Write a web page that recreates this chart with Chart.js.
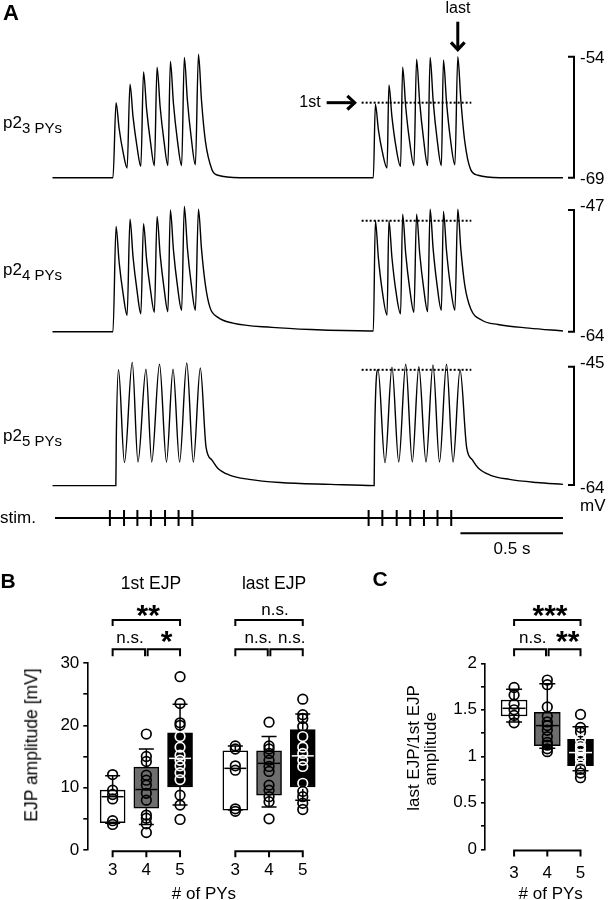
<!DOCTYPE html>
<html><head><meta charset="utf-8"><title>EJP figure</title>
<script src="https://cdn.jsdelivr.net/npm/chart.js@4.4.1/dist/chart.umd.min.js"></script>
<style>
html,body{margin:0;padding:0;background:#fff;}
#fig{position:relative;width:609px;height:900px;overflow:hidden;background:#fff;font-family:'Liberation Sans',Arial,Helvetica,sans-serif;color:#000;}
#fig canvas{position:absolute;}
.t{position:absolute;white-space:nowrap;line-height:1;}
.sub{font-size:15px;position:relative;top:5px;}
</style></head>
<body><div id="fig">
<canvas id="tr1" width="609" height="195" style="left:0;top:0"></canvas>
<canvas id="tr2" width="609" height="155" style="left:0;top:190px"></canvas>
<canvas id="tr3" width="609" height="150" style="left:0;top:345px"></canvas>
<canvas id="stim" width="609" height="65" style="left:0;top:495px"></canvas>
<canvas id="pB" width="340" height="340" style="left:0;top:560px"></canvas>
<canvas id="pC" width="279" height="340" style="left:330px;top:560px"></canvas>
</div>
<script>
// ================= DATA =================
// Panel A: membrane potential traces, [time (s), mV]
const trace3PYs = [[0.000,-69.0],
 [0.295,-69.0],[0.310,-59.7],[0.325,-62.9],[0.344,-65.8],[0.364,-67.8],
 [0.378,-57.4],[0.393,-61.5],[0.412,-65.1],[0.431,-67.6],
 [0.444,-55.9],[0.459,-60.5],[0.478,-64.6],[0.497,-67.5],
 [0.510,-55.3],[0.525,-60.2],[0.544,-64.5],[0.563,-67.5],
 [0.575,-54.6],[0.590,-59.8],[0.609,-64.3],[0.630,-67.5],
 [0.643,-54.1],[0.658,-59.4],[0.677,-64.1],[0.697,-67.4],
 [0.712,-53.7],[0.727,-59.5],[0.746,-64.5],[0.778,-68.0],[0.807,-68.7],[0.915,-69.0],
 [1.565,-69.0],[1.575,-59.9],[1.590,-63.1],[1.609,-65.8],[1.632,-67.8],
 [1.641,-57.5],[1.656,-61.5],[1.675,-65.1],[1.698,-67.6],
 [1.708,-55.3],[1.723,-60.2],[1.742,-64.5],[1.763,-67.5],
 [1.776,-54.3],[1.791,-59.6],[1.810,-64.2],[1.830,-67.5],
 [1.842,-54.1],[1.857,-59.5],[1.876,-64.2],[1.897,-67.5],
 [1.907,-54.4],[1.922,-59.6],[1.941,-64.2],[1.963,-67.4],
 [1.977,-54.0],[1.992,-59.4],[2.011,-64.5],[2.040,-68.0],[2.076,-68.7],[2.183,-69.0],
 [2.490,-69.0]];
const trace4PYs = [[0.000,-64.0],
 [0.295,-64.0],[0.310,-49.3],[0.325,-54.3],[0.344,-58.6],[0.364,-61.7],
 [0.378,-48.3],[0.393,-53.6],[0.412,-58.2],[0.431,-61.5],
 [0.444,-48.9],[0.459,-53.9],[0.478,-58.2],[0.497,-61.3],
 [0.510,-47.9],[0.525,-53.2],[0.544,-57.9],[0.563,-61.2],
 [0.575,-47.0],[0.590,-52.6],[0.609,-57.5],[0.630,-61.0],
 [0.643,-46.5],[0.658,-52.3],[0.677,-57.4],[0.697,-61.0],
 [0.712,-46.9],[0.727,-52.5],[0.746,-57.5],[0.768,-60.6],[0.807,-62.0],[0.880,-62.8],[1.071,-63.4],[1.261,-63.7],[1.549,-63.9],
 [1.565,-63.9],[1.575,-48.5],[1.590,-53.8],[1.609,-58.4],[1.632,-61.7],
 [1.641,-48.5],[1.656,-53.7],[1.675,-58.3],[1.698,-61.5],
 [1.708,-47.6],[1.723,-53.1],[1.742,-57.9],[1.763,-61.3],
 [1.776,-47.6],[1.791,-53.0],[1.810,-57.8],[1.830,-61.2],
 [1.842,-46.9],[1.857,-52.5],[1.876,-57.5],[1.897,-61.0],
 [1.907,-47.2],[1.922,-52.7],[1.941,-57.6],[1.963,-61.0],
 [1.977,-46.9],[1.992,-52.5],[2.011,-57.5],[2.040,-60.8],[2.095,-62.4],[2.173,-63.0],[2.324,-63.5],[2.490,-63.9]];
const trace5PYs = [[0.000,-64.1],
 [0.309,-64.1],[0.311,-57.0],[0.322,-45.5],[0.351,-60.4],
 [0.389,-44.3],[0.417,-60.3],
 [0.456,-45.4],[0.484,-60.3],
 [0.522,-44.6],[0.556,-60.3],
 [0.588,-45.4],[0.620,-60.3],
 [0.655,-44.4],[0.687,-60.3],
 [0.721,-45.2],[0.749,-57.9],[0.778,-60.0],[0.806,-61.3],[0.863,-62.4],[0.959,-63.1],[1.110,-63.6],[1.357,-63.9],
 [1.569,-64.1],[1.571,-57.0],[1.588,-45.5],[1.622,-60.4],
 [1.656,-45.1],[1.689,-60.3],
 [1.723,-44.6],[1.755,-60.3],
 [1.787,-45.0],[1.822,-60.3],
 [1.856,-44.7],[1.888,-60.3],
 [1.922,-44.6],[1.954,-60.3],
 [1.988,-45.5],[2.020,-57.9],[2.049,-60.0],[2.078,-61.3],[2.134,-62.4],[2.229,-63.1],[2.362,-63.6],[2.490,-63.9]];
// scale-bar ranges (mV) of the three traces
const mvRange3PYs = [-69, -54];
const mvRange4PYs = [-64, -47];
const mvRange5PYs = [-64, -45];
// first EJP of the second train (dotted reference level)
const firstEJP3PYs = -59.7, firstEJP4PYs = -48.5, firstEJP5PYs = -45.5;
// stimulus times (s)
const stimTrain1 = [0.280, 0.349, 0.414, 0.480, 0.549, 0.615, 0.682];
const stimTrain2 = [1.542, 1.609, 1.679, 1.745, 1.812, 1.878, 1.945];
const stimSpan = [0.012, 2.490];
const timeBar = 0.5; // s

// Panel B / C : box stats [whiskerLow, q1, median, q3, whiskerHigh]
const pyCategories = ['3', '4', '5'];
const firstEJPStats = [[4.3,4.4,8.55,9.6,11.9],[4.1,6.7,9.7,13.3,16.2],[7.2,10.1,14.7,18.8,23.4]];
const lastEJPStats  = [[6.4,6.4,13.1,15.9,16.7],[6.9,8.8,13.9,15.9,18.2],[8.0,10.1,15.1,19.3,21.8]];
const firstEJPPoints = [
  [12.1, 9.6, 8.9, 8.2, 4.7, 4.1],
  [18.6, 15.0, 14.2, 12.0, 11.2, 10.4, 9.1, 8.0, 5.6, 5.1, 4.2, 2.8],
  [27.8, 23.5, 20.4, 20.0, 18.2, 16.5, 15.2, 14.4, 13.5, 12.4, 11.3, 8.8, 7.2, 4.9]];
const lastEJPPoints = [
  [16.7, 16.2, 13.5, 12.8, 6.6, 6.2],
  [20.5, 16.7, 16.2, 15.5, 14.4, 13.4, 12.6, 10.4, 9.6, 8.55, 7.75, 5.0],
  [24.2, 21.7, 21.1, 19.8, 18.2, 16.5, 15.5, 14.4, 13.4, 10.7, 9.4, 8.55, 7.5, 6.5]];
const ratioStats = [[1.37,1.433,1.516,1.605,1.72],[1.086,1.114,1.33,1.473,1.78],[0.845,0.90,1.04,1.183,1.318]];
const ratioPoints = [
  [1.74, 1.66, 1.56, 1.50, 1.44, 1.36],
  [1.82, 1.77, 1.53, 1.43, 1.37, 1.33, 1.28, 1.21, 1.15, 1.12, 1.08, 1.05],
  [1.45, 1.31, 1.26, 1.18, 1.12, 1.09, 1.07, 1.02, 0.98, 0.96, 0.91, 0.86, 0.82, 0.77]];

// ================= STYLE / LAYOUT =================
const FONT = "'Liberation Sans', Arial, Helvetica, sans-serif";
Chart.defaults.font.family = FONT;
Chart.defaults.color = '#000';
const BOX_FILLS = ['#ffffff', '#6e6e6e', '#000000'];
const PX_PER_S = 205, TRACE_LEFT = 52.5, BAR_X = 574, FIG_W = 609;
const T_MAX = (BAR_X - TRACE_LEFT) / PX_PER_S;
const REF_T0 = 1.508, REF_T1 = 2.043;
const fig = document.getElementById('fig');

const toXY = a => a.map(p => ({x: p[0], y: p[1]}));
const baseOpts = (pad) => ({
  responsive: false, animation: false, events: [], devicePixelRatio: 1,
  layout: {padding: pad},
  plugins: {legend: {display: false}, tooltip: {enabled: false}, title: {display: false}}
});

// mV scale bar drawn at the right edge of the chart area from the y scale
const mvBar = {
  id: 'mvBar',
  afterDatasetsDraw(chart) {
    const {ctx, chartArea: a, scales: {y}} = chart;
    const y0 = y.getPixelForValue(y.max), y1 = y.getPixelForValue(y.min);
    ctx.save(); ctx.strokeStyle = '#000'; ctx.lineWidth = 2;
    ctx.beginPath();
    ctx.moveTo(a.right - 6, y0); ctx.lineTo(a.right, y0); ctx.lineTo(a.right, y1); ctx.lineTo(a.right - 6, y1);
    ctx.stroke(); ctx.restore();
  }
};

function arrow(ctx, x0, y0, x1, y1) {
  const ang = Math.atan2(y1 - y0, x1 - x0), h = 10, w = 0.75;
  ctx.beginPath(); ctx.lineWidth = 3; ctx.moveTo(x0, y0); ctx.lineTo(x1 - 2 * Math.cos(ang), y1 - 2 * Math.sin(ang)); ctx.stroke();
  ctx.beginPath(); ctx.lineWidth = 3.2; ctx.lineJoin = 'miter';
  ctx.moveTo(x1 - h * Math.cos(ang - w), y1 - h * Math.sin(ang - w));
  ctx.lineTo(x1, y1);
  ctx.lineTo(x1 - h * Math.cos(ang + w), y1 - h * Math.sin(ang + w));
  ctx.stroke();
}
const arrows = {
  id: 'arrows',
  afterDatasetsDraw(chart) {
    const {ctx, scales: {x, y}} = chart;
    ctx.save(); ctx.strokeStyle = '#000';
    const ya = y.getPixelForValue(firstEJP3PYs), xa = x.getPixelForValue(REF_T0) - 7;
    arrow(ctx, xa - 28, ya, xa, ya);
    let last = trace3PYs.filter(p => p[0] > 1.95 && p[0] < 2.0).reduce((m, p) => p[1] > m[1] ? p : m);
    const xl = x.getPixelForValue(last[0]), yl = y.getPixelForValue(last[1]) - 7;
    arrow(ctx, xl, yl - 28, xl, yl);
    ctx.restore();
  }
};

function traceChart(id, trace, range, ref, pad, extra) {
  return new Chart(document.getElementById(id), {
    type: 'line',
    data: {datasets: [
      {data: toXY(trace), borderColor: '#000', borderWidth: 1.4, pointRadius: 0, cubicInterpolationMode: 'monotone', clip: false},
      {data: [{x: REF_T0, y: ref}, {x: REF_T1, y: ref}], borderColor: '#000', borderWidth: 2, borderDash: [2, 2], pointRadius: 0, clip: false}
    ]},
    options: Object.assign(baseOpts({left: TRACE_LEFT, right: FIG_W - BAR_X, top: pad[0], bottom: pad[1]}), {
      scales: {
        x: {type: 'linear', display: false, min: 0, max: T_MAX},
        y: {type: 'linear', display: false, min: range[0], max: range[1]}
      }
    }),
    plugins: [mvBar].concat(extra || [])
  });
}
traceChart('tr1', trace3PYs, mvRange3PYs, firstEJP3PYs, [56.7, 17.3], [arrows]);
traceChart('tr2', trace4PYs, mvRange4PYs, firstEJP4PYs, [20, 13.3]);
traceChart('tr3', trace5PYs, mvRange5PYs, firstEJP5PYs, [21.7, 10]);

// stimulus row
const timeBarPlugin = {
  id: 'timeBar',
  afterDatasetsDraw(chart) {
    const {ctx, scales: {x, y}} = chart;
    const yy = y.getPixelForValue(-1.9);
    ctx.save(); ctx.strokeStyle = '#000'; ctx.lineWidth = 2;
    ctx.beginPath(); ctx.moveTo(x.getPixelForValue(stimSpan[1] - timeBar), yy); ctx.lineTo(x.getPixelForValue(stimSpan[1]), yy); ctx.stroke();
    ctx.restore();
  }
};
new Chart(document.getElementById('stim'), {
  type: 'line',
  data: {datasets: [
    {data: stimSpan.map(t => ({x: t, y: 0})), borderColor: '#000', borderWidth: 2, pointRadius: 0, clip: false},
    {type: 'scatter', data: stimTrain1.concat(stimTrain2).map(t => ({x: t, y: 0})), pointStyle: 'line', pointRotation: 90,
     pointRadius: 8, pointBorderWidth: 2, pointBorderColor: '#000', showLine: false, clip: false}
  ]},
  options: Object.assign(baseOpts({left: TRACE_LEFT, right: FIG_W - BAR_X, top: 15, bottom: 34}), {
    scales: {x: {type: 'linear', display: false, min: 0, max: T_MAX}, y: {type: 'linear', display: false, min: -1, max: 1}}
  }),
  plugins: [timeBarPlugin]
});

// ================= box plot panels =================
function boxPanel(id, groups, conf) {
  const boxes = [], fills = [], points = [], pColors = [], meta = [];
  groups.forEach(g => g.stats.forEach((s, i) => {
    const pos = g.pos0 + i;
    boxes.push({x: pos, y: [s[1], s[3]]});
    fills.push(BOX_FILLS[i]);
    meta.push({pos, s, fill: BOX_FILLS[i]});
    g.points[i].forEach(v => {
      points.push({x: pos, y: v});
      pColors.push(BOX_FILLS[i] === '#000000' && v >= s[1] && v <= s[3] ? '#ffffff' : '#000000');
    });
  }));
  const extras = {
    id: 'boxExtras',
    beforeDatasetsDraw(chart) {
      const {ctx, scales: {x, y}} = chart;
      ctx.save(); ctx.strokeStyle = '#000'; ctx.lineWidth = 1.5;
      meta.forEach(m => {
        const px = x.getPixelForValue(m.pos);
        ctx.beginPath();
        ctx.moveTo(px, y.getPixelForValue(m.s[4])); ctx.lineTo(px, y.getPixelForValue(m.s[3]));
        ctx.moveTo(px, y.getPixelForValue(m.s[1])); ctx.lineTo(px, y.getPixelForValue(m.s[0]));
        ctx.stroke();
      });
      ctx.restore();
    },
    afterDatasetsDraw(chart) {
      const {ctx, chartArea: a, scales: {x, y}} = chart;
      ctx.save();
      meta.forEach(m => {
        const px = x.getPixelForValue(m.pos);
        ctx.strokeStyle = '#000'; ctx.lineWidth = 1.5;
        ctx.beginPath();
        [m.s[0], m.s[4]].forEach(v => { const py = y.getPixelForValue(v); ctx.moveTo(px - conf.capW / 2, py); ctx.lineTo(px + conf.capW / 2, py); });
        ctx.stroke();
        ctx.strokeStyle = m.fill === '#000000' ? '#ffffff' : '#000000';
        ctx.beginPath();
        const pm = y.getPixelForValue(m.s[2]);
        ctx.moveTo(px - conf.barW / 2 + 1.5, pm); ctx.lineTo(px + conf.barW / 2 - 1.5, pm); ctx.stroke();
      });
      // bracket-shaped category axis
      ctx.strokeStyle = '#000'; ctx.lineWidth = 2; ctx.lineJoin = 'miter';
      ctx.fillStyle = '#000'; ctx.font = '17px ' + FONT; ctx.textAlign = 'center'; ctx.textBaseline = 'middle';
      const yb = a.bottom + 1.2;
      groups.forEach(g => {
        const xs = pyCategories.map((c, i) => x.getPixelForValue(g.pos0 + i));
        ctx.beginPath();
        ctx.moveTo(xs[0], yb + 6); ctx.lineTo(xs[0], yb); ctx.lineTo(xs[2], yb); ctx.lineTo(xs[2], yb + 6);
        ctx.moveTo(xs[1], yb); ctx.lineTo(xs[1], yb + 6);
        ctx.stroke();
        pyCategories.forEach((c, i) => ctx.fillText(c, xs[i], conf.catLabelY));
      });
      // significance brackets
      conf.sig.forEach(b => {
        const xa = x.getPixelForValue(b.a) + (b.ia || 0), xb2 = x.getPixelForValue(b.b) - (b.ib || 0);
        ctx.beginPath();
        ctx.moveTo(xa, b.y + b.leg); ctx.lineTo(xa, b.y); ctx.lineTo(xb2, b.y); ctx.lineTo(xb2, b.y + b.leg);
        ctx.stroke();
      });
      ctx.restore();
    }
  };
  return new Chart(document.getElementById(id), {
    type: 'bar',
    data: {datasets: [
      {type: 'scatter', data: points, pointRadius: 4.8, pointBorderWidth: 1.7, pointBorderColor: pColors,
       pointBackgroundColor: 'rgba(0,0,0,0)', showLine: false, clip: false, order: 1},
      {type: 'bar', data: boxes, backgroundColor: fills, borderColor: '#000', borderWidth: 1.5, borderSkipped: false,
       barThickness: conf.barW, grouped: false, clip: false, order: 2}
    ]},
    options: Object.assign(baseOpts({left: 0, right: 0, top: conf.padTop, bottom: conf.padBottom}), {
      scales: {
        x: {type: 'linear', display: false, offset: false, min: conf.xMin, max: conf.xMax},
        y: {type: 'linear', position: 'left', min: conf.yMin, max: conf.yMax,
            afterFit: s => { s.width = conf.axisW; },
            border: {display: true, color: '#000', width: 1.6},
            grid: {drawOnChartArea: false, drawTicks: true, tickLength: 4, color: '#000', lineWidth: 1.6},
            ticks: {stepSize: conf.yStep, autoSkip: false, padding: 4, color: '#000', font: {size: 17, family: FONT},
                    callback: v => Math.abs(v / conf.yLabelEvery - Math.round(v / conf.yLabelEvery)) < 1e-6 ? String(+v.toFixed(2)) : ''}}
      }
    }),
    plugins: [extras]
  });
}

const GAP_B = 3.64;
boxPanel('pB', [
  {stats: firstEJPStats, points: firstEJPPoints, pos0: 0},
  {stats: lastEJPStats, points: lastEJPPoints, pos0: GAP_B}
], {
  padTop: 103, padBottom: 50, axisW: 87.3, xMin: -0.7514, xMax: 6.552, yMin: 0, yMax: 30, yStep: 5, yLabelEvery: 10,
  barW: 25, capW: 15, catLabelY: 310.7,
  sig: [
    {a: 0, b: 2, y: 60, leg: 6},
    {a: 0, b: 1, y: 89.3, leg: 7, ib: 1.3},
    {a: 1, b: 2, y: 89.3, leg: 7, ia: 1.3},
    {a: GAP_B, b: GAP_B + 2, y: 60, leg: 6},
    {a: GAP_B, b: GAP_B + 1, y: 89.3, leg: 7, ib: 1.3},
    {a: GAP_B + 1, b: GAP_B + 2, y: 89.3, leg: 7, ia: 1.3}
  ]
});
boxPanel('pC', [{stats: ratioStats, points: ratioPoints, pos0: 0}], {
  padTop: 103.3, padBottom: 50.7, axisW: 155, xMin: -0.876, xMax: 2.662, yMin: 0, yMax: 2, yStep: 0.25, yLabelEvery: 0.5,
  barW: 26, capW: 16, catLabelY: 313.3,
  sig: [
    {a: 0, b: 2, y: 60, leg: 6},
    {a: 0, b: 1, y: 89.3, leg: 7, ib: 1.3},
    {a: 1, b: 2, y: 89.3, leg: 7, ia: 1.3}
  ]
});

// ================= text labels =================
function label(html, x, y, o = {}) {
  const d = document.createElement('div');
  d.className = 't';
  d.innerHTML = html;
  const size = o.size || 17;
  d.style.fontSize = size + 'px';
  if (o.bold) d.style.fontWeight = 'bold';
  d.style.left = x + 'px';
  d.style.top = (y + (o.dy || 0)) + 'px';
  const ax = o.align === 'left' ? '0' : (o.align === 'right' ? '-100%' : '-50%');
  d.style.transform = 'translate(' + ax + ',-50%)' + (o.rot ? ' rotate(' + o.rot + 'deg)' : '');
  fig.appendChild(d);
}
const star = (s, x, y) => label(s, x, y, {size: 30, bold: true, dy: 3});

label('A', 11, 12.5, {size: 22, bold: true});
label('last', 458, 7.5, {size: 16});
label('1st', 310, 101.5, {size: 16});
label('p2<span class="sub">3 PYs</span>', 3, 121.5, {align: 'left'});
label('p2<span class="sub">4 PYs</span>', 3, 268.5, {align: 'left'});
label('p2<span class="sub">5 PYs</span>', 3, 435, {align: 'left'});
label(String(mvRange3PYs[1]), 580, 57, {align: 'left'});
label(String(mvRange3PYs[0]), 580, 177.7, {align: 'left'});
label(String(mvRange4PYs[1]), 580, 205, {align: 'left'});
label(String(mvRange4PYs[0]), 580, 335, {align: 'left'});
label(String(mvRange5PYs[1]), 580, 361.7, {align: 'left'});
label(String(mvRange5PYs[0]), 580, 487.3, {align: 'left'});
label('mV', 580, 505, {align: 'left'});
label('stim.', 0, 517, {align: 'left'});
label('0.5 s', 512, 548);

label('B', 8, 580, {size: 21, bold: true});
label('C', 380, 578, {size: 21, bold: true});
label('1st EJP', 151, 584, {size: 17.5});
label('last EJP', 274, 584, {size: 17.5});
star('**', 148.3, 611.7);
label('n.s.', 130, 637);
star('*', 166.7, 638.3);
label('n.s.', 275, 609);
label('n.s.', 258.3, 637);
label('n.s.', 291.7, 637);
star('***', 550, 611.7);
label('n.s.', 532.7, 637);
star('**', 567.7, 638.3);

label('EJP amplitude [mV]', 31.7, 745, {size: 17.5, rot: -90});
label('last EJP/1st EJP', 412.7, 748, {size: 17, rot: -90});
label('amplitude', 430, 749, {size: 17, rot: -90});
label('# of PYs', 204, 893);
label('# of PYs', 550.7, 893);
</script></body></html>
